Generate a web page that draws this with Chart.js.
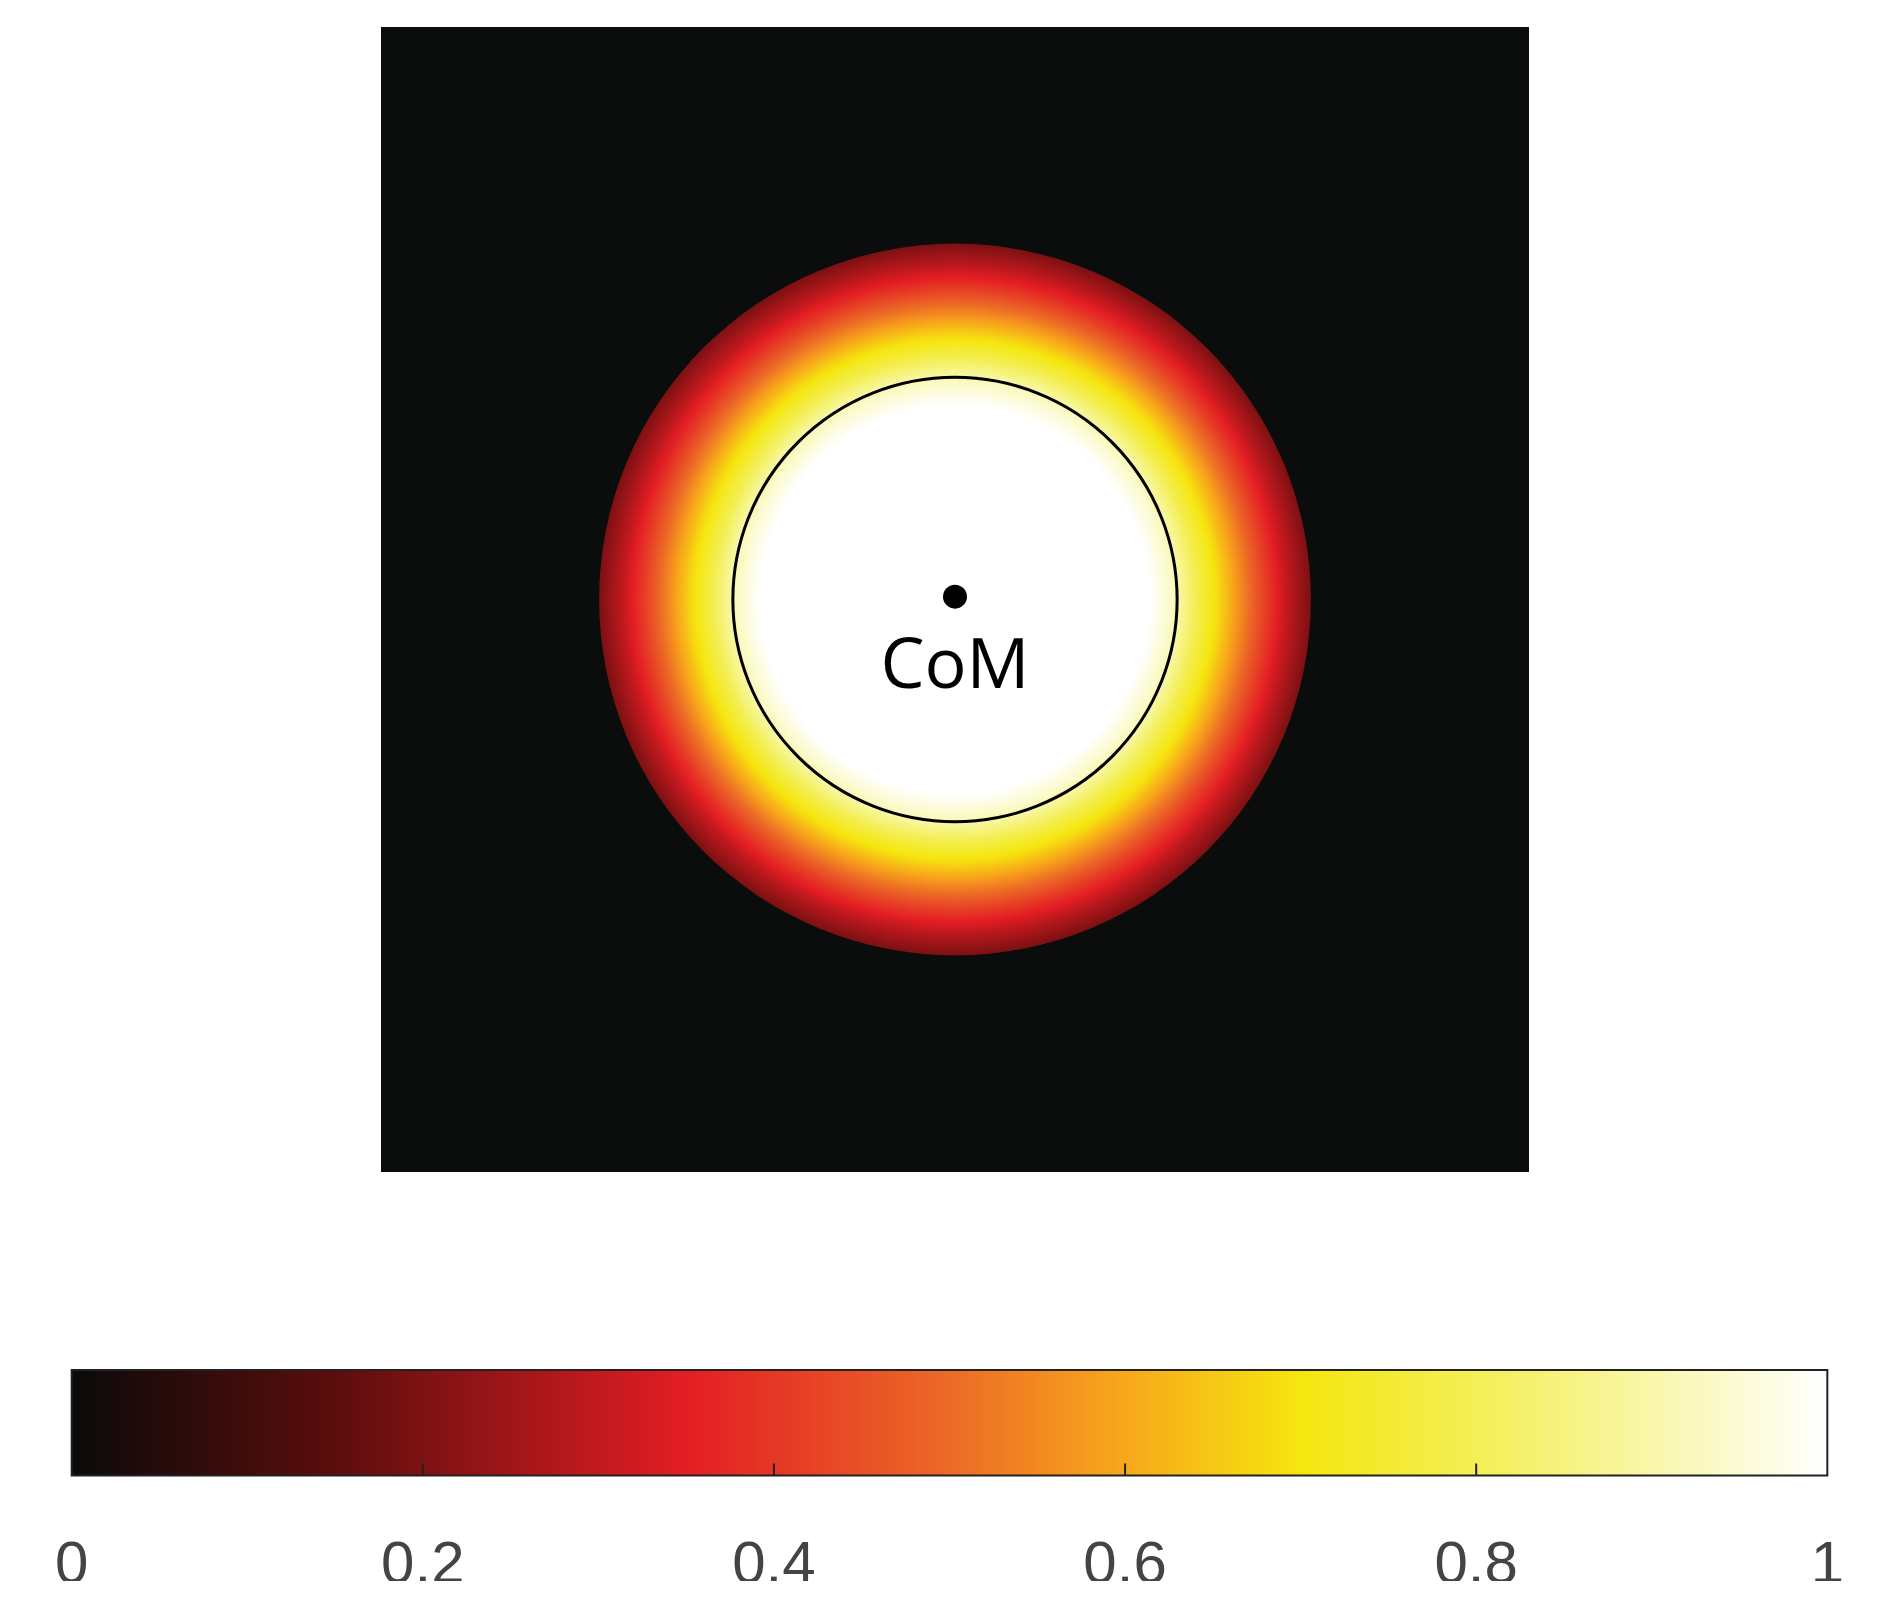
<!DOCTYPE html>
<html><head><meta charset="utf-8">
<script src="https://cdn.jsdelivr.net/npm/chart.js@4/dist/chart.umd.min.js"></script>
<style>body{margin:0;background:#fff;width:1899px;height:1611px;overflow:hidden;position:relative}
.box{position:absolute;left:0;width:1899px}</style></head>
<body>
<div class="box" style="top:0;height:1250px"><canvas id="map"></canvas></div>
<div class="box" style="top:1300px;height:311px"><canvas id="bar"></canvas></div>
<script>
// radial profile of intensity (radius in map units, value 0..1)
const profileRadius = [0, 0.34, 0.38, 0.42, 0.46, 0.50, 0.54, 0.58, 0.62, 0.64];
const profileValue  = [1, 1, 0.93, 0.80, 0.68, 0.55, 0.42, 0.30, 0.20, 0.15];
const outerRadius = 0.62;
const innerCircleRadius = 0.387;
const comPoint = [{x: 0, y: 0.005}];
const colorStops = [0, 0.15, 0.35, 0.5, 0.6, 0.7, 0.8, 1];
const colorValues = ['#0a0a0a','#5c0d0d','#e31e24','#ec6a27','#f8a81b','#f5e60f','#f3ef55','#ffffff'];
const tickLabels = [0, 0.2, 0.4, 0.6, 0.8, 1];

function hex(c){return [1,3,5].map(i=>parseInt(c.substr(i,2),16));}
function colorAt(v){
  for(let i=1;i<colorStops.length;i++){
    if(v<=colorStops[i]){const t=(v-colorStops[i-1])/(colorStops[i]-colorStops[i-1]);
      const a=hex(colorValues[i-1]),b=hex(colorValues[i]);
      return 'rgb('+a.map((x,k)=>Math.round(x+(b[k]-x)*t)).join(',')+')';}
  }
  return colorValues[colorValues.length-1];
}
function profileAt(r){
  if(r>outerRadius) return 0;
  for(let i=1;i<profileRadius.length;i++){
    if(r<=profileRadius[i]){const t=(r-profileRadius[i-1])/(profileRadius[i]-profileRadius[i-1]);
      return profileValue[i-1]+(profileValue[i]-profileValue[i-1])*t;}
  }
  return profileValue[profileValue.length-1];
}

const mapPlugin={id:'mapPlugin',
  beforeDatasetsDraw(c){
    const {ctx,chartArea:a,scales:{x,y}}=c;
    ctx.save();ctx.fillStyle='#0a0d0b';ctx.fillRect(a.left,a.top,a.right-a.left,a.bottom-a.top);
    const cx=x.getPixelForValue(0),cy=y.getPixelForValue(0);
    const pxPer=(x.getPixelForValue(1)-cx);
    for(let r=outerRadius;r>0;r-=0.002){
      ctx.beginPath();ctx.arc(cx,cy,r*pxPer,0,Math.PI*2);ctx.fillStyle=colorAt(profileAt(r));ctx.fill();
    }
    ctx.beginPath();ctx.arc(cx,cy,innerCircleRadius*pxPer,0,Math.PI*2);
    ctx.lineWidth=3;ctx.strokeStyle='#000';ctx.stroke();
    ctx.fillStyle='#000';ctx.font='70px "Open Sans"';ctx.textAlign='center';ctx.textBaseline='middle';
    ctx.fillText('CoM',cx,y.getPixelForValue(-0.12));
    ctx.restore();
  }};
new Chart(document.getElementById('map'),{type:'scatter',
  data:{datasets:[{data:comPoint,pointRadius:12,pointBackgroundColor:'#000',pointBorderWidth:0}]},
  options:{responsive:true,maintainAspectRatio:false,devicePixelRatio:1,animation:false,
    layout:{padding:{left:381,right:370,top:27,bottom:78}},
    plugins:{legend:{display:false},tooltip:{enabled:false}},
    scales:{x:{min:-1,max:1,display:false},y:{min:-1,max:1,display:false}}},
  plugins:[mapPlugin]});

const barPlugin={id:'barPlugin',
  beforeDatasetsDraw(c){
    const {ctx,chartArea:a,scales:{x}}=c;
    const g=ctx.createLinearGradient(x.getPixelForValue(0),0,x.getPixelForValue(1),0);
    colorStops.forEach((s,i)=>g.addColorStop(s,colorValues[i]));
    ctx.save();ctx.fillStyle=g;ctx.fillRect(a.left,a.top,a.right-a.left,a.bottom-a.top);
    ctx.strokeStyle='#222';ctx.lineWidth=2;
    tickLabels.slice(1,-1).forEach(v=>{const px=x.getPixelForValue(v);
      ctx.beginPath();ctx.moveTo(px,a.bottom);ctx.lineTo(px,a.bottom-12);ctx.stroke();});
    ctx.strokeRect(a.left,a.top,a.right-a.left,a.bottom-a.top);
    ctx.restore();
  }};
new Chart(document.getElementById('bar'),{type:'scatter',
  data:{datasets:[{data:[]}]},
  options:{responsive:true,maintainAspectRatio:false,devicePixelRatio:1,animation:false,
    layout:{padding:{left:53,right:45,top:70,bottom:30}},
    plugins:{legend:{display:false},tooltip:{enabled:false}},
    scales:{
      x:{min:0,max:1,afterBuildTicks:s=>{s.ticks=tickLabels.map(v=>({value:v}));},
        grid:{display:false,drawTicks:false},border:{display:false},
        ticks:{padding:55,color:'#444',font:{size:60,family:'"Liberation Sans"'},maxRotation:0,
          callback:v=>String(v)}},
      y:{min:0,max:1,display:false}}},
  plugins:[barPlugin]});
</script></body></html>
